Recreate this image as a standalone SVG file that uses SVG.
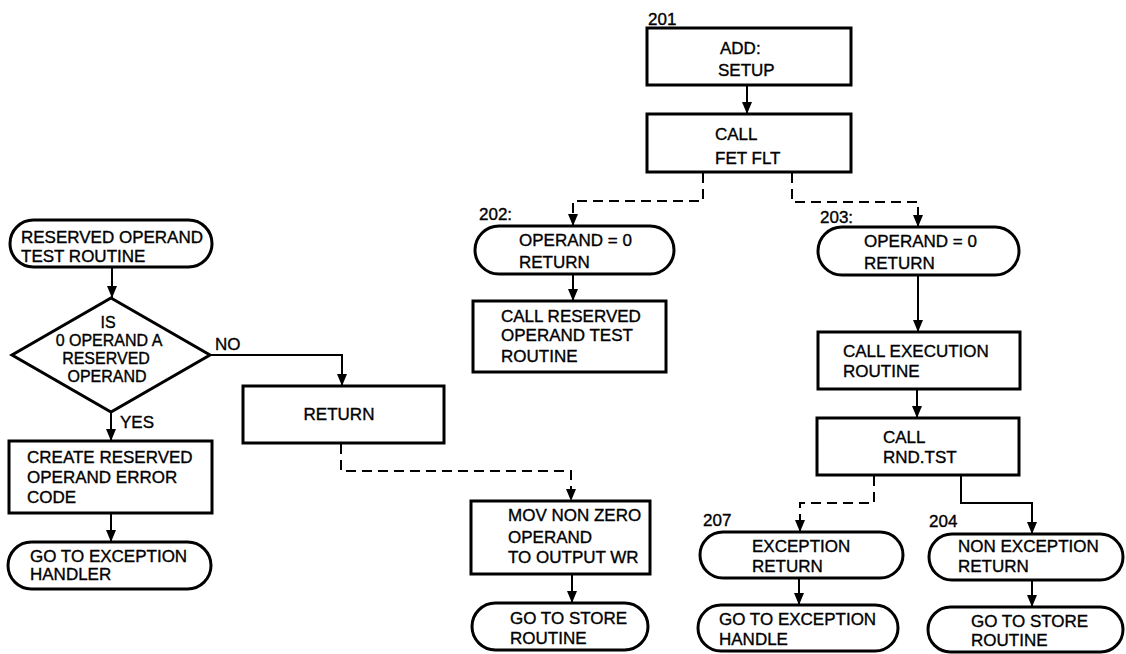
<svg xmlns="http://www.w3.org/2000/svg" width="1126" height="654" viewBox="0 0 1126 654">
<defs>
<marker id="ah" markerUnits="userSpaceOnUse" markerWidth="12" markerHeight="10" refX="12" refY="5" orient="auto">
<path d="M0,0 L12,5 L0,10 z" fill="#000"/>
</marker>
<style>
.box{fill:#fff;stroke:#000;stroke-width:3}
.t{font-family:"Liberation Sans",Arial,sans-serif;font-size:17px;fill:#000;stroke:#000;stroke-width:0.35}
.s{font-size:16px}
.m{text-anchor:middle}
.c{fill:none;stroke:#000;stroke-width:2}
.a{marker-end:url(#ah)}
.d{stroke-dasharray:10 6}
</style>
</defs>
<rect width="1126" height="654" fill="#fff"/>
<g id="connectors">
<path class="c a" d="M112,268 V298"/>
<path class="c a" d="M210,355 H342 V386"/>
<path class="c a" d="M111,412 V441"/>
<path class="c a" d="M111,513 V542"/>
<path class="c d a" d="M341,444 V471 H571 V501"/>
<path class="c a" d="M572,575 V603"/>
<path class="c a" d="M747,86 V114"/>
<path class="c d a" d="M703,173 V201 H573 V226"/>
<path class="c a" d="M573,275 V301"/>
<path class="c d a" d="M792,173 V202 H918 V227"/>
<path class="c a" d="M918,276 V332"/>
<path class="c a" d="M917,390 V418"/>
<path class="c d a" d="M874,476 V503 H800 V532"/>
<path class="c a" d="M799,579 V605"/>
<path class="c a" d="M961,476 V503 H1032 V534"/>
<path class="c a" d="M1032,581 V607"/>
<text class="t" x="215" y="350">NO</text>
<text class="t" x="120" y="428">YES</text>
</g>
<g id="n_start">
<rect class="box" x="10" y="220" width="202" height="47" rx="23.5"/>
<text class="t" x="21" y="243">RESERVED OPERAND</text>
<text class="t" x="21" y="262">TEST ROUTINE</text>
</g>
<g id="n_decision">
<polygon class="box" points="111,298 210,355 111,412 12,355"/>
<text class="t s m" x="108" y="328">IS</text>
<text class="t s m" x="109" y="346">0 OPERAND A</text>
<text class="t s m" x="106" y="364">RESERVED</text>
<text class="t s m" x="107" y="382">OPERAND</text>
</g>
<g id="n_create">
<rect class="box" x="9" y="441" width="203" height="72"/>
<text class="t" x="27" y="463">CREATE RESERVED</text>
<text class="t" x="27" y="483">OPERAND ERROR</text>
<text class="t" x="27" y="503">CODE</text>
</g>
<g id="n_handler">
<rect class="box" x="8" y="542" width="203" height="47" rx="23.5"/>
<text class="t" x="30" y="562">GO TO EXCEPTION</text>
<text class="t" x="30" y="580">HANDLER</text>
</g>
<g id="n_return">
<rect class="box" x="243" y="386" width="201" height="57"/>
<text class="t m" x="339" y="420">RETURN</text>
</g>
<g id="n_mov">
<rect class="box" x="471" y="501" width="179" height="73"/>
<text class="t" x="508" y="521">MOV NON ZERO</text>
<text class="t" x="508" y="543">OPERAND</text>
<text class="t" x="508" y="563">TO OUTPUT WR</text>
</g>
<g id="n_store1">
<rect class="box" x="472" y="603" width="176" height="47" rx="23.5"/>
<text class="t" x="510" y="624">GO TO STORE</text>
<text class="t" x="510" y="644">ROUTINE</text>
</g>
<g id="n_add">
<text class="t" x="648" y="25">201</text>
<rect class="box" x="647" y="28" width="204" height="57"/>
<text class="t" x="720" y="54">ADD:</text>
<text class="t" x="718" y="76">SETUP</text>
</g>
<g id="n_fet">
<rect class="box" x="647" y="114" width="204" height="58"/>
<text class="t" x="715" y="140">CALL</text>
<text class="t" x="715" y="164">FET FLT</text>
</g>
<g id="n_202">
<text class="t" x="479" y="220">202:</text>
<rect class="box" x="475" y="226" width="199" height="48" rx="24"/>
<text class="t" x="519" y="246">OPERAND = 0</text>
<text class="t" x="519" y="268">RETURN</text>
</g>
<g id="n_callres">
<rect class="box" x="473" y="301" width="193" height="71"/>
<text class="t" x="501" y="322">CALL RESERVED</text>
<text class="t" x="501" y="341">OPERAND TEST</text>
<text class="t" x="501" y="362">ROUTINE</text>
</g>
<g id="n_203">
<text class="t" x="820" y="223">203:</text>
<rect class="box" x="818" y="227" width="201" height="48" rx="24"/>
<text class="t" x="864" y="247">OPERAND = 0</text>
<text class="t" x="864" y="269">RETURN</text>
</g>
<g id="n_exec">
<rect class="box" x="818" y="332" width="202" height="57"/>
<text class="t" x="843" y="357">CALL EXECUTION</text>
<text class="t" x="843" y="377">ROUTINE</text>
</g>
<g id="n_rnd">
<rect class="box" x="817" y="418" width="202" height="57"/>
<text class="t" x="883" y="443">CALL</text>
<text class="t" x="883" y="463">RND.TST</text>
</g>
<g id="n_207">
<text class="t" x="703" y="526">207</text>
<rect class="box" x="700" y="532" width="203" height="46" rx="23"/>
<text class="t" x="752" y="552">EXCEPTION</text>
<text class="t" x="752" y="572">RETURN</text>
</g>
<g id="n_handle">
<rect class="box" x="698" y="605" width="200" height="46" rx="23"/>
<text class="t" x="719" y="625">GO TO EXCEPTION</text>
<text class="t" x="719" y="645">HANDLE</text>
</g>
<g id="n_204">
<text class="t" x="929" y="527">204</text>
<rect class="box" x="929" y="534" width="194" height="46" rx="23"/>
<text class="t" x="958" y="552">NON EXCEPTION</text>
<text class="t" x="958" y="572">RETURN</text>
</g>
<g id="n_store2">
<rect class="box" x="928" y="607" width="195" height="45" rx="22.5"/>
<text class="t" x="971" y="627">GO TO STORE</text>
<text class="t" x="971" y="646">ROUTINE</text>
</g>
</svg>
